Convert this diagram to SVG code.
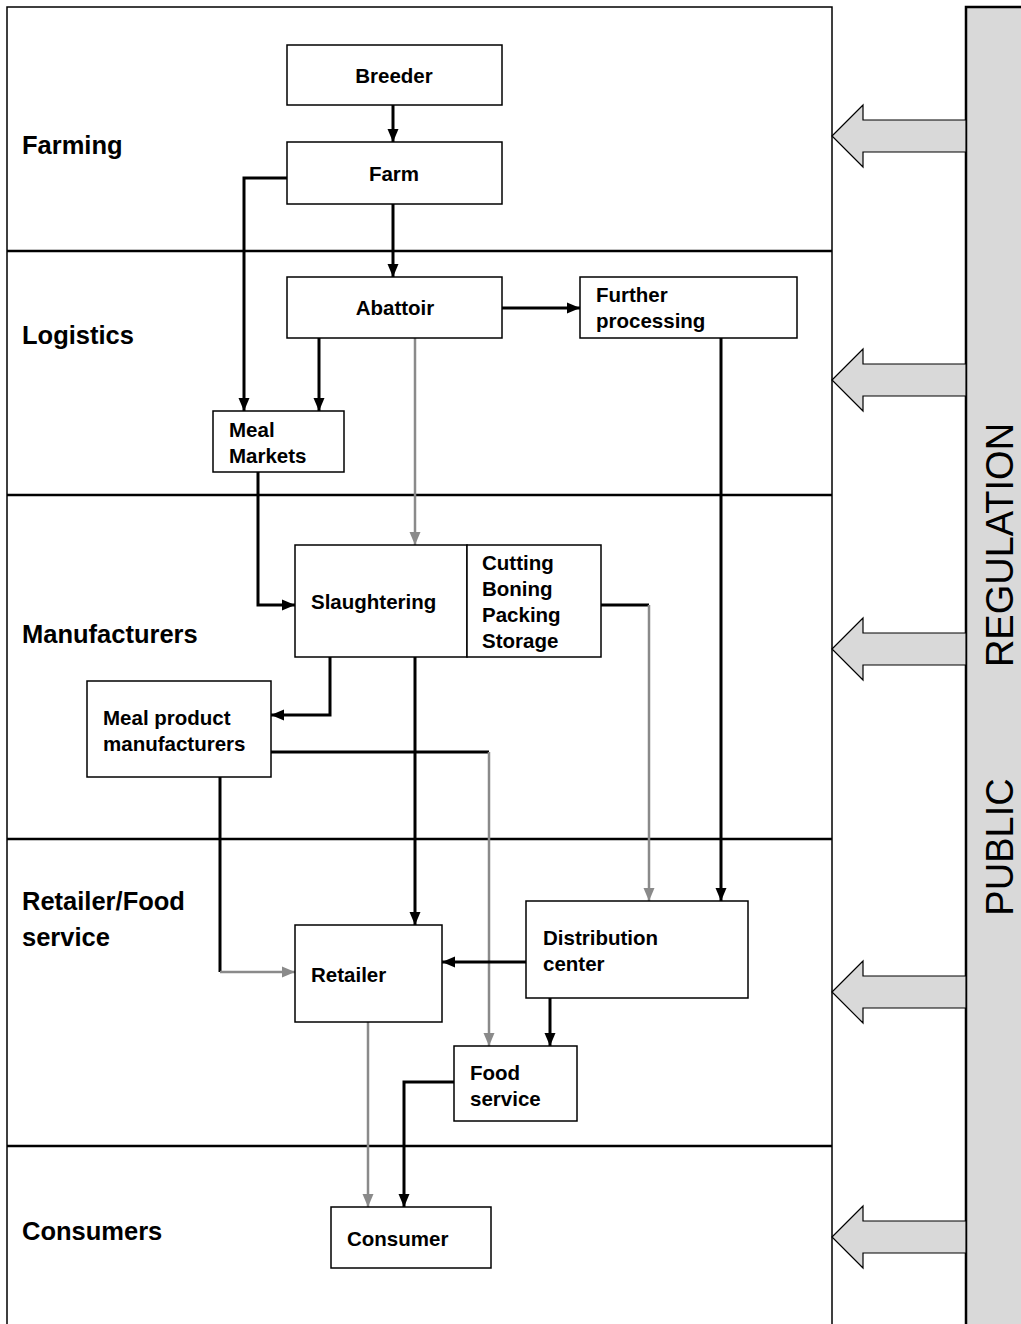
<svg xmlns="http://www.w3.org/2000/svg" width="1021" height="1324" viewBox="0 0 1021 1324">
<style>
.box{fill:#fff;stroke:#000;stroke-width:1.5}
.t{font-family:"Liberation Sans",Arial,sans-serif;font-weight:bold;font-size:20.5px;fill:#000}
.lab{font-family:"Liberation Sans",Arial,sans-serif;font-weight:bold;font-size:25.5px;fill:#000}
.k{fill:none;stroke:#000;stroke-width:3}
.g{fill:none;stroke:#8a8a8a;stroke-width:2.5}
.sep{stroke:#000;stroke-width:2.5}
.barrow{fill:#d9d9d9;stroke:#000;stroke-width:1.2}
</style>
<defs>
<marker id="ak" markerUnits="userSpaceOnUse" markerWidth="13" markerHeight="12" refX="13" refY="6" orient="auto"><path d="M0,0.5 L13,6 L0,11.5 z" fill="#000"/></marker>
<marker id="ag" markerUnits="userSpaceOnUse" markerWidth="13" markerHeight="12" refX="13" refY="6" orient="auto"><path d="M0,0.5 L13,6 L0,11.5 z" fill="#8a8a8a"/></marker>
</defs>
<rect width="1021" height="1324" fill="#fff"/>
<g id="frame">
<rect x="7" y="7" width="825" height="1330" fill="none" stroke="#000" stroke-width="1.5"/>
<line class="sep" x1="7" y1="251" x2="832" y2="251"/>
<line class="sep" x1="7" y1="495" x2="832" y2="495"/>
<line class="sep" x1="7" y1="839" x2="832" y2="839"/>
<line class="sep" x1="7" y1="1146" x2="832" y2="1146"/>
</g>
<g id="lane-labels">
<text class="lab" x="22" y="154">Farming</text>
<text class="lab" x="22" y="344">Logistics</text>
<text class="lab" x="22" y="643">Manufacturers</text>
<text class="lab" x="22" y="910">Retailer/Food</text>
<text class="lab" x="22" y="946">service</text>
<text class="lab" x="22" y="1240">Consumers</text>
</g>
<g id="regulation">
<rect x="966" y="7" width="60" height="1330" fill="#d9d9d9" stroke="#000" stroke-width="2.5"/>
<text font-family="'Liberation Sans',Arial,sans-serif" font-size="38" text-anchor="middle" transform="translate(1013,847) rotate(-90)">PUBLIC</text>
<text font-family="'Liberation Sans',Arial,sans-serif" font-size="38" text-anchor="middle" transform="translate(1013,545) rotate(-90)">REGULATION</text>
</g>
<g id="block-arrows">
<polygon class="barrow" points="832,136 863,105 863,120 966,120 966,152 863,152 863,167"/>
<polygon class="barrow" points="832,380 863,349 863,364 966,364 966,396 863,396 863,411"/>
<polygon class="barrow" points="832,649 863,618 863,633 966,633 966,665 863,665 863,680"/>
<polygon class="barrow" points="832,992 863,961 863,976 966,976 966,1008 863,1008 863,1023"/>
<polygon class="barrow" points="832,1237 863,1206 863,1221 966,1221 966,1253 863,1253 863,1268"/>
</g>
<g id="connectors">
<polyline class="k" points="393,105 393,142" marker-end="url(#ak)"/>
<polyline class="k" points="393,204 393,277" marker-end="url(#ak)"/>
<polyline class="k" points="287,178 244,178 244,411" marker-end="url(#ak)"/>
<polyline class="k" points="502,308 580,308" marker-end="url(#ak)"/>
<polyline class="k" points="319,338 319,411" marker-end="url(#ak)"/>
<polyline class="g" points="415,338 415,545" marker-end="url(#ag)"/>
<polyline class="k" points="721,338 721,901" marker-end="url(#ak)"/>
<polyline class="k" points="258,472 258,605 295,605" marker-end="url(#ak)"/>
<polyline class="k" points="601,605 649,605"/>
<polyline class="g" points="649,605 649,901" marker-end="url(#ag)"/>
<polyline class="k" points="330,657 330,715 271,715" marker-end="url(#ak)"/>
<polyline class="k" points="415,657 415,925" marker-end="url(#ak)"/>
<polyline class="k" points="271,752 489,752"/>
<polyline class="g" points="489,752 489,1046" marker-end="url(#ag)"/>
<polyline class="k" points="220,777 220,972"/>
<polyline class="g" points="220,972 295,972" marker-end="url(#ag)"/>
<polyline class="k" points="526,962 442,962" marker-end="url(#ak)"/>
<polyline class="k" points="550,998 550,1046" marker-end="url(#ak)"/>
<polyline class="g" points="368,1022 368,1207" marker-end="url(#ag)"/>
<polyline class="k" points="454,1082 404,1082 404,1207" marker-end="url(#ak)"/>
</g>
<g id="breeder"><rect class="box" x="287" y="45" width="215" height="60"/><text class="t" x="394" y="83" text-anchor="middle">Breeder</text></g>
<g id="farm"><rect class="box" x="287" y="142" width="215" height="62"/><text class="t" x="394" y="181" text-anchor="middle">Farm</text></g>
<g id="abattoir"><rect class="box" x="287" y="277" width="215" height="61"/><text class="t" x="395" y="315" text-anchor="middle">Abattoir</text></g>
<g id="further-processing"><rect class="box" x="580" y="277" width="217" height="61"/><text class="t" x="596" y="302">Further</text><text class="t" x="596" y="328">processing</text></g>
<g id="meal-markets"><rect class="box" x="213" y="411" width="131" height="61"/><text class="t" x="229" y="437">Meal</text><text class="t" x="229" y="463">Markets</text></g>
<g id="slaughtering"><rect class="box" x="295" y="545" width="172" height="112"/><text class="t" x="311" y="609">Slaughtering</text></g>
<g id="cutting"><rect class="box" x="467" y="545" width="134" height="112"/><text class="t" x="482" y="570">Cutting</text><text class="t" x="482" y="596">Boning</text><text class="t" x="482" y="622">Packing</text><text class="t" x="482" y="648">Storage</text></g>
<g id="meal-product-manufacturers"><rect class="box" x="87" y="681" width="184" height="96"/><text class="t" x="103" y="725">Meal product</text><text class="t" x="103" y="751">manufacturers</text></g>
<g id="retailer"><rect class="box" x="295" y="925" width="147" height="97"/><text class="t" x="311" y="982">Retailer</text></g>
<g id="distribution-center"><rect class="box" x="526" y="901" width="222" height="97"/><text class="t" x="543" y="945">Distribution</text><text class="t" x="543" y="971">center</text></g>
<g id="food-service"><rect class="box" x="454" y="1046" width="123" height="75"/><text class="t" x="470" y="1080">Food</text><text class="t" x="470" y="1106">service</text></g>
<g id="consumer"><rect class="box" x="331" y="1207" width="160" height="61"/><text class="t" x="347" y="1246">Consumer</text></g>
</svg>
